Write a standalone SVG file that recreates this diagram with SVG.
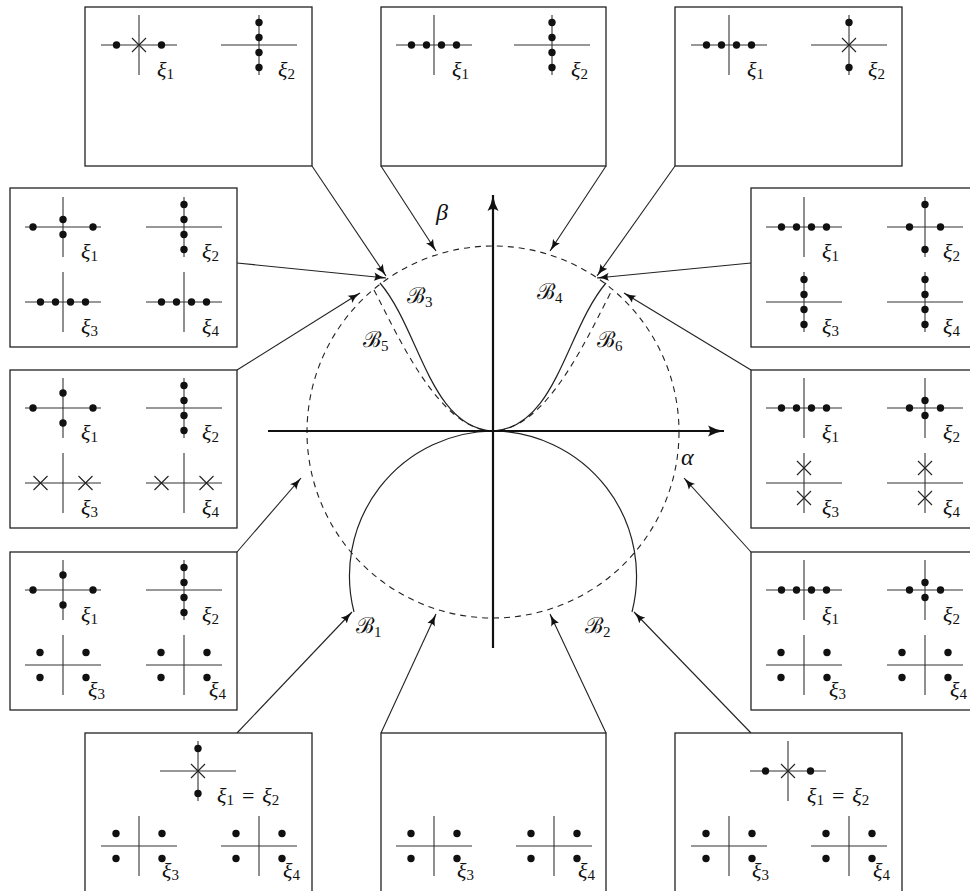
<svg xmlns="http://www.w3.org/2000/svg" xmlns:xlink="http://www.w3.org/1999/xlink" width="970" height="891" viewBox="0 0 970 891">
  <style>
    .box { fill: #fff; stroke: #222; stroke-width: 1.3; }
    .ax { stroke: #333; stroke-width: 1.1; fill: none; }
    .dot { fill: #111; }
    .xm { stroke: #222; stroke-width: 1.1; fill: none; }
    .lbl { font-family: "Liberation Serif", "DejaVu Serif", serif; font-style: italic; font-size: 22px; fill: #111; }
    .sub { font-family: "Liberation Serif", "DejaVu Serif", serif; font-style: normal; font-size: 15px; fill: #111; }
    .eq { font-family: "Liberation Serif", "DejaVu Serif", serif; font-style: normal; font-size: 22px; fill: #111; }
    .gr { font-family: "Liberation Serif", "DejaVu Serif", serif; font-style: italic; font-size: 24px; fill: #111; }
    .cal { font-family: "DejaVu Serif", "Liberation Serif", serif; font-style: normal; font-size: 22px; fill: #111; }
    .conn { stroke: #222; stroke-width: 1.1; fill: none; }
    .main { stroke: #111; stroke-width: 2.2; fill: none; }
    .curve { stroke: #222; stroke-width: 1.2; fill: none; }
    .dash { stroke: #222; stroke-width: 1.1; fill: none; stroke-dasharray: 6 5; }
  </style>
  <defs>
    <marker id="arr" markerWidth="14" markerHeight="10" refX="12" refY="5" orient="auto" markerUnits="userSpaceOnUse">
      <path d="M0,0.8 Q5,4 12,5 Q5,6 0,9.2 Q3,5 0,0.8 Z" fill="#111"/>
    </marker>
    <marker id="arrBig" markerWidth="18" markerHeight="12" refX="16" refY="6" orient="auto" markerUnits="userSpaceOnUse">
      <path d="M0,0.5 Q7,4.5 16,6 Q7,7.5 0,11.5 Q4,6 0,0.5 Z" fill="#111"/>
    </marker>
    <!-- plane: horizontal and vertical axis of one ξ-plot -->
    <g id="plane">
      <line class="ax" x1="-38" y1="0" x2="38" y2="0"/>
      <line class="ax" x1="0" y1="-30" x2="0" y2="30"/>
    </g>
    <circle id="d" class="dot" r="3.7"/>
    <path id="x" class="xm" d="M-7,-7 L7,7 M-7,7 L7,-7"/>
    <!-- dot layouts -->
    <g id="h4"><use xlink:href="#plane"/><use xlink:href="#d" x="-22.5"/><use xlink:href="#d" x="-7.5"/><use xlink:href="#d" x="7.5"/><use xlink:href="#d" x="22.5"/></g>
    <g id="v4"><use xlink:href="#plane"/><use xlink:href="#d" y="-22.5"/><use xlink:href="#d" y="-7.5"/><use xlink:href="#d" y="7.5"/><use xlink:href="#d" y="22.5"/></g>
    <g id="hx"><use xlink:href="#plane"/><use xlink:href="#d" x="-22.5"/><use xlink:href="#x"/><use xlink:href="#d" x="22.5"/></g>
    <g id="vx"><use xlink:href="#plane"/><use xlink:href="#d" y="-22.5"/><use xlink:href="#x"/><use xlink:href="#d" y="22.5"/></g>
    <g id="pS"><use xlink:href="#plane"/><use xlink:href="#d" x="-30"/><use xlink:href="#d" x="30"/><use xlink:href="#d" y="-7.5"/><use xlink:href="#d" y="7.5"/></g>
    <g id="pT"><use xlink:href="#plane"/><use xlink:href="#d" x="-30"/><use xlink:href="#d" x="30"/><use xlink:href="#d" y="-15"/><use xlink:href="#d" y="15"/></g>
    <g id="pR"><use xlink:href="#plane"/><use xlink:href="#d" x="-15.5"/><use xlink:href="#d" x="15.5"/><use xlink:href="#d" y="-22.5"/><use xlink:href="#d" y="22.5"/></g>
    <g id="pN"><use xlink:href="#plane"/><use xlink:href="#d" x="-15.5"/><use xlink:href="#d" x="15.5"/><use xlink:href="#d" y="-7.5"/><use xlink:href="#d" y="7.5"/></g>
    <g id="xH"><use xlink:href="#plane"/><use xlink:href="#x" x="-22.5"/><use xlink:href="#x" x="22.5"/></g>
    <g id="xV"><use xlink:href="#plane"/><use xlink:href="#x" y="-15"/><use xlink:href="#x" y="15"/></g>
    <g id="q4"><use xlink:href="#plane"/><use xlink:href="#d" x="-23" y="-12.5"/><use xlink:href="#d" x="23" y="-12.5"/><use xlink:href="#d" x="-23" y="12.5"/><use xlink:href="#d" x="23" y="12.5"/></g>
  </defs>

  <!-- connectors -->
  <g id="connectors">
    <line class="conn" x1="312" y1="166" x2="386" y2="276" marker-end="url(#arr)"/>
    <line class="conn" x1="381" y1="166" x2="436" y2="251" marker-end="url(#arr)"/>
    <line class="conn" x1="606" y1="166" x2="550" y2="251" marker-end="url(#arr)"/>
    <line class="conn" x1="675" y1="166" x2="597" y2="276" marker-end="url(#arr)"/>
    <line class="conn" x1="237" y1="263" x2="386" y2="278" marker-end="url(#arr)"/>
    <line class="conn" x1="751" y1="263" x2="597" y2="278" marker-end="url(#arr)"/>
    <line class="conn" x1="237" y1="370" x2="360" y2="293" marker-end="url(#arr)"/>
    <line class="conn" x1="751" y1="370" x2="624" y2="293" marker-end="url(#arr)"/>
    <line class="conn" x1="237" y1="552" x2="301" y2="478" marker-end="url(#arr)"/>
    <line class="conn" x1="751" y1="552" x2="684" y2="478" marker-end="url(#arr)"/>
    <line class="conn" x1="237" y1="733" x2="352" y2="612" marker-end="url(#arr)"/>
    <line class="conn" x1="751" y1="733" x2="634" y2="612" marker-end="url(#arr)"/>
    <line class="conn" x1="381" y1="733" x2="436" y2="614" marker-end="url(#arr)"/>
    <line class="conn" x1="606" y1="733" x2="550" y2="614" marker-end="url(#arr)"/>
  </g>

  <!-- central α–β plane -->
  <g id="plane-main">
    <circle class="dash" cx="493" cy="432" r="186"/>
    <path class="curve" d="M380,283 C420,330 430,428 493,431 C556,428 566,330 606,283"/>
    <path class="dash" d="M374,290 C400,340 440,430 493,431 C546,430 586,340 612,290"/>
    <path class="curve" d="M493,431 A145,145 0 0 0 354,612 M493,431 A145,145 0 0 1 632,612"/>
    <line class="main" x1="268" y1="431" x2="724" y2="431" marker-end="url(#arrBig)"/>
    <line class="main" x1="493" y1="648" x2="493" y2="195" marker-end="url(#arrBig)"/>
    <text class="gr" x="436" y="220">β</text>
    <text class="gr" x="681" y="465">α</text>
    <text class="cal" x="407" y="303">ℬ<tspan class="sub" dy="4">3</tspan></text>
    <text class="cal" x="537" y="299">ℬ<tspan class="sub" dy="4">4</tspan></text>
    <text class="cal" x="363" y="347">ℬ<tspan class="sub" dy="4">5</tspan></text>
    <text class="cal" x="597" y="347">ℬ<tspan class="sub" dy="4">6</tspan></text>
    <text class="cal" x="356" y="633">ℬ<tspan class="sub" dy="4">1</tspan></text>
    <text class="cal" x="585" y="633">ℬ<tspan class="sub" dy="4">2</tspan></text>
  </g>

  <!-- top row -->
  <g id="box-top-left">
    <rect class="box" x="85" y="7" width="227" height="159"/>
    <use xlink:href="#hx" x="139" y="45"/>
    <use xlink:href="#v4" x="259" y="45"/>
    <text class="lbl" x="157" y="77">ξ<tspan class="sub" dy="2">1</tspan></text>
    <text class="lbl" x="278" y="77">ξ<tspan class="sub" dy="2">2</tspan></text>
  </g>
  <g id="box-top-mid">
    <rect class="box" x="381" y="7" width="225" height="159"/>
    <use xlink:href="#h4" x="434" y="45"/>
    <use xlink:href="#v4" x="552" y="45"/>
    <text class="lbl" x="452" y="77">ξ<tspan class="sub" dy="2">1</tspan></text>
    <text class="lbl" x="571" y="77">ξ<tspan class="sub" dy="2">2</tspan></text>
  </g>
  <g id="box-top-right">
    <rect class="box" x="675" y="7" width="227" height="159"/>
    <use xlink:href="#h4" x="729" y="45"/>
    <use xlink:href="#vx" x="849" y="45"/>
    <text class="lbl" x="747" y="77">ξ<tspan class="sub" dy="2">1</tspan></text>
    <text class="lbl" x="868" y="77">ξ<tspan class="sub" dy="2">2</tspan></text>
  </g>

  <!-- left column -->
  <g id="box-left-1">
    <rect class="box" x="10" y="188" width="227" height="159"/>
    <use xlink:href="#pS" x="63" y="227"/>
    <use xlink:href="#v4" x="184" y="227"/>
    <use xlink:href="#h4" x="63" y="302"/>
    <use xlink:href="#h4" x="184" y="302"/>
    <text class="lbl" x="81" y="259">ξ<tspan class="sub" dy="2">1</tspan></text>
    <text class="lbl" x="202" y="259">ξ<tspan class="sub" dy="2">2</tspan></text>
    <text class="lbl" x="81" y="334">ξ<tspan class="sub" dy="2">3</tspan></text>
    <text class="lbl" x="202" y="334">ξ<tspan class="sub" dy="2">4</tspan></text>
  </g>
  <g id="box-left-2">
    <rect class="box" x="10" y="370" width="227" height="158"/>
    <use xlink:href="#pT" x="63" y="408"/>
    <use xlink:href="#v4" x="184" y="408"/>
    <use xlink:href="#xH" x="63" y="483"/>
    <use xlink:href="#xH" x="184" y="483"/>
    <text class="lbl" x="81" y="440">ξ<tspan class="sub" dy="2">1</tspan></text>
    <text class="lbl" x="202" y="440">ξ<tspan class="sub" dy="2">2</tspan></text>
    <text class="lbl" x="81" y="515">ξ<tspan class="sub" dy="2">3</tspan></text>
    <text class="lbl" x="202" y="515">ξ<tspan class="sub" dy="2">4</tspan></text>
  </g>
  <g id="box-left-3">
    <rect class="box" x="10" y="552" width="227" height="158"/>
    <use xlink:href="#pT" x="63" y="590"/>
    <use xlink:href="#v4" x="184" y="590"/>
    <use xlink:href="#q4" x="63" y="665"/>
    <use xlink:href="#q4" x="184" y="665"/>
    <text class="lbl" x="81" y="622">ξ<tspan class="sub" dy="2">1</tspan></text>
    <text class="lbl" x="202" y="622">ξ<tspan class="sub" dy="2">2</tspan></text>
    <text class="lbl" x="88" y="697">ξ<tspan class="sub" dy="2">3</tspan></text>
    <text class="lbl" x="209" y="697">ξ<tspan class="sub" dy="2">4</tspan></text>
  </g>

  <!-- right column -->
  <g id="box-right-1">
    <rect class="box" x="751" y="188" width="227" height="159"/>
    <use xlink:href="#h4" x="804" y="227"/>
    <use xlink:href="#pR" x="925" y="227"/>
    <use xlink:href="#v4" x="804" y="302"/>
    <use xlink:href="#v4" x="925" y="302"/>
    <text class="lbl" x="822" y="259">ξ<tspan class="sub" dy="2">1</tspan></text>
    <text class="lbl" x="943" y="259">ξ<tspan class="sub" dy="2">2</tspan></text>
    <text class="lbl" x="822" y="334">ξ<tspan class="sub" dy="2">3</tspan></text>
    <text class="lbl" x="943" y="334">ξ<tspan class="sub" dy="2">4</tspan></text>
  </g>
  <g id="box-right-2">
    <rect class="box" x="751" y="370" width="227" height="158"/>
    <use xlink:href="#h4" x="804" y="408"/>
    <use xlink:href="#pN" x="925" y="408"/>
    <use xlink:href="#xV" x="804" y="483"/>
    <use xlink:href="#xV" x="925" y="483"/>
    <text class="lbl" x="822" y="440">ξ<tspan class="sub" dy="2">1</tspan></text>
    <text class="lbl" x="943" y="440">ξ<tspan class="sub" dy="2">2</tspan></text>
    <text class="lbl" x="822" y="515">ξ<tspan class="sub" dy="2">3</tspan></text>
    <text class="lbl" x="943" y="515">ξ<tspan class="sub" dy="2">4</tspan></text>
  </g>
  <g id="box-right-3">
    <rect class="box" x="751" y="552" width="227" height="158"/>
    <use xlink:href="#h4" x="804" y="590"/>
    <use xlink:href="#pN" x="925" y="590"/>
    <use xlink:href="#q4" x="804" y="665"/>
    <use xlink:href="#q4" x="925" y="665"/>
    <text class="lbl" x="822" y="622">ξ<tspan class="sub" dy="2">1</tspan></text>
    <text class="lbl" x="943" y="622">ξ<tspan class="sub" dy="2">2</tspan></text>
    <text class="lbl" x="829" y="697">ξ<tspan class="sub" dy="2">3</tspan></text>
    <text class="lbl" x="950" y="697">ξ<tspan class="sub" dy="2">4</tspan></text>
  </g>

  <!-- bottom row -->
  <g id="box-bottom-left">
    <rect class="box" x="85" y="733" width="227" height="170"/>
    <use xlink:href="#vx" x="198" y="771"/>
    <use xlink:href="#q4" x="139" y="846"/>
    <use xlink:href="#q4" x="259" y="846"/>
    <text class="lbl" x="217" y="803">ξ<tspan class="sub" dy="2">1</tspan><tspan class="eq" dx="8" dy="-2">=</tspan><tspan dx="8">ξ</tspan><tspan class="sub" dy="2">2</tspan></text>
    <text class="lbl" x="162" y="878">ξ<tspan class="sub" dy="2">3</tspan></text>
    <text class="lbl" x="283" y="878">ξ<tspan class="sub" dy="2">4</tspan></text>
  </g>
  <g id="box-bottom-mid">
    <rect class="box" x="381" y="733" width="225" height="170"/>
    <use xlink:href="#q4" x="434" y="846"/>
    <use xlink:href="#q4" x="554" y="846"/>
    <text class="lbl" x="457" y="878">ξ<tspan class="sub" dy="2">3</tspan></text>
    <text class="lbl" x="578" y="878">ξ<tspan class="sub" dy="2">4</tspan></text>
  </g>
  <g id="box-bottom-right">
    <rect class="box" x="675" y="733" width="227" height="170"/>
    <use xlink:href="#hx" x="788" y="771"/>
    <use xlink:href="#q4" x="729" y="846"/>
    <use xlink:href="#q4" x="849" y="846"/>
    <text class="lbl" x="807" y="803">ξ<tspan class="sub" dy="2">1</tspan><tspan class="eq" dx="8" dy="-2">=</tspan><tspan dx="8">ξ</tspan><tspan class="sub" dy="2">2</tspan></text>
    <text class="lbl" x="752" y="878">ξ<tspan class="sub" dy="2">3</tspan></text>
    <text class="lbl" x="873" y="878">ξ<tspan class="sub" dy="2">4</tspan></text>
  </g>
</svg>
